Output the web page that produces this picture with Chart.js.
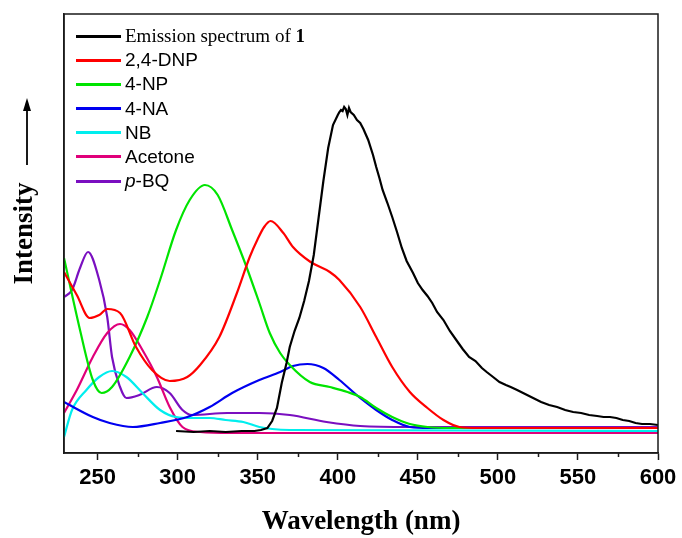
<!DOCTYPE html>
<html>
<head>
<meta charset="utf-8">
<script src="https://cdn.jsdelivr.net/npm/chart.js@4.4.0/dist/chart.umd.min.js"></script>
<style>
  html, body { margin: 0; padding: 0; background: #fff; }
  #wrap { position: relative; width: 682px; height: 538px; }
  #myChart { position: absolute; left: 0; top: 0; }
  #legend { position: absolute; left: 76px; top: 24px; }
  #legend .row { height: 24.2px; line-height: 24.2px; white-space: nowrap; font-family: "Liberation Sans", Arial, sans-serif; font-size: 19px; color: #000; }
  #legend .row.serif { font-family: "Liberation Serif", "Times New Roman", serif; }
  #legend .swatch { display: inline-block; width: 45px; height: 3px; vertical-align: middle; margin-right: 4px; position: relative; top: -1px; }
</style>
</head>
<body>
<div id="wrap">
  <canvas id="myChart" width="682" height="538"></canvas>
  <div id="legend"></div>
</div>
<script>
// x range and tick labels
const xMin = 229;
const xMax = 600;
const xMajor = [250, 300, 350, 400, 450, 500, 550, 600];
const xMinor = [275, 325, 375, 425, 475, 525, 575];

// Emission spectrum of 1
const emWl = [299, 310, 320, 330, 340, 348, 352, 356, 359, 362, 365, 368, 370, 373, 376, 379, 382, 385, 388, 391, 394, 397, 400, 401, 402, 403, 404, 405, 406, 407, 408, 410, 412, 414, 416, 419, 422, 424, 426, 428, 431, 434, 437, 440, 443, 447, 450, 453, 456, 459, 462, 466, 470, 474, 478, 482, 486, 490, 493, 497, 501, 505, 508, 512, 517, 522, 527, 532, 537, 542, 547, 552, 557, 562, 566, 570, 574, 578, 582, 586, 590, 595, 600];
const emI  = [22, 21, 22, 21, 22, 22, 23, 25, 32, 45, 70, 90, 106, 122, 135, 152, 172, 198, 235, 272, 305, 328, 338, 341, 343, 342, 346, 344, 338, 345, 341, 338, 333, 330, 324, 313, 298, 286, 275, 263, 250, 236, 221, 205, 192, 180, 170, 163, 157, 150, 141, 133, 122, 113, 104, 96, 92, 85, 81, 76, 71, 68, 66, 63, 59, 55, 51, 48, 46, 43, 41, 40, 38, 37, 36, 36, 35, 33, 32, 30, 29, 29, 28];

// 2,4-DNP
const dnpWl = [229, 237, 245, 251, 256, 264, 274, 284, 295, 306, 314, 326, 337, 345, 350, 354, 358, 366, 372, 383, 395, 401, 414, 424, 434, 445, 456, 466, 476, 488, 530, 600];
const dnpI  = [181, 158, 135, 138, 144, 140, 106, 83, 72, 76, 88, 116, 160, 196, 214, 226, 232, 220, 206, 191, 181, 173, 146, 116, 86, 61, 45, 33, 26, 25, 25, 25];

// 4-NP
const npWl = [229, 239, 247, 252.5, 259, 270, 281, 289, 299, 307.5, 317, 325, 334, 343, 351, 357.5, 364, 370, 382.5, 395, 406, 414, 424, 434, 445, 456, 470, 600];
const npI  = [195, 123, 73, 60, 66, 96, 136, 173, 223, 253, 268, 258, 223, 186, 150, 120, 100, 88, 71, 66, 61, 56, 45, 36, 29, 26, 25, 25];

// 4-NA
const naWl = [229, 247, 257.5, 272, 289, 306, 320, 334, 351, 364, 372, 381, 391, 401, 414, 424, 434, 445, 457, 600];
const naI  = [51, 36, 30, 26, 30, 36, 46, 60, 73, 81, 87, 89, 85, 73, 55, 43, 33, 26, 25, 25];

// NB
const nbWl = [229, 234, 243, 251, 259, 268, 278, 289, 299, 310, 320, 330, 341, 351, 359, 370, 600];
const nbI  = [16, 43, 63, 76, 82, 76, 60, 43, 36, 35, 35, 33, 31, 26, 24, 23, 22];

// Acetone
const acWl = [229, 237, 247, 256, 264, 270, 278, 287, 295, 303, 314, 333, 600];
const acI  = [40, 63, 96, 120, 129, 123, 103, 76, 46, 26, 21, 20, 20];

// p-BQ
const bqWl = [229, 234, 239, 244, 251, 256, 259, 264, 268, 276, 287, 295, 303, 309, 331, 351, 370, 393, 414, 445, 600];
const bqI  = [156, 163, 185, 201, 173, 136, 96, 66, 55, 58, 66, 60, 43, 38, 40, 40, 38, 31, 27, 26, 26];

const series = [
  { label: 'Emission spectrum of 1', html: 'Emission spectrum of <b>1</b>', serif: true, color: '#000000', wl: emWl, v: emI, tension: 0 },
  { label: '2,4-DNP', html: '2,4-DNP', color: '#ff0000', wl: dnpWl, v: dnpI },
  { label: '4-NP', html: '4-NP', color: '#00e400', wl: npWl, v: npI },
  { label: '4-NA', html: '4-NA', color: '#0000f0', wl: naWl, v: naI },
  { label: 'NB', html: 'NB', color: '#00eeee', wl: nbWl, v: nbI },
  { label: 'Acetone', html: 'Acetone', color: '#e0007a', wl: acWl, v: acI },
  { label: 'p-BQ', html: '<i>p</i>-BQ', color: '#7a0fc0', wl: bqWl, v: bqI }
];

// legend as html
const legend = document.getElementById('legend');
series.forEach(s => {
  const row = document.createElement('div');
  row.className = 'row' + (s.serif ? ' serif' : '');
  row.innerHTML = '<span class="swatch" style="background:' + s.color + '"></span>' + s.html;
  legend.appendChild(row);
});

const frame = {
  id: 'frame',
  afterDraw(chart) {
    const ctx = chart.ctx;
    const a = chart.chartArea;
    const x = chart.scales.x;
    ctx.save();
    ctx.strokeStyle = '#1a1a1a';
    ctx.lineWidth = 1.5;
    ctx.strokeRect(a.left, a.top, a.right - a.left, a.bottom - a.top);
    // minor ticks
    ctx.beginPath();
    xMinor.forEach(v => {
      const px = Math.round(x.getPixelForValue(v)) + 0.5;
      ctx.moveTo(px, a.bottom);
      ctx.lineTo(px, a.bottom + 4);
    });
    ctx.stroke();
    // arrow next to the y title
    ctx.fillStyle = '#000';
    ctx.lineWidth = 2;
    ctx.beginPath();
    ctx.moveTo(27, 165);
    ctx.lineTo(27, 108);
    ctx.stroke();
    ctx.beginPath();
    ctx.moveTo(27, 98);
    ctx.lineTo(23, 111);
    ctx.lineTo(31, 111);
    ctx.closePath();
    ctx.fill();
    ctx.restore();
  }
};

const myChart = new Chart('myChart', {
  type: 'line',
  data: {
    datasets: series.map(s => ({
      label: s.label,
      data: s.wl.map((w, i) => ({ x: w, y: s.v[i] })),
      borderColor: s.color,
      borderWidth: 2.2,
      pointRadius: 0,
      fill: false,
      tension: s.tension === 0 ? 0 : 0.4,
      cubicInterpolationMode: s.tension === 0 ? 'default' : 'monotone'
    }))
  },
  options: {
    responsive: false,
    animation: false,
    layout: { padding: { left: 0, right: 24, top: 14, bottom: 0 } },
    plugins: { legend: { display: false }, tooltip: { enabled: false } },
    scales: {
      x: {
        type: 'linear',
        min: xMin,
        max: xMax,
        afterBuildTicks: axis => { axis.ticks = xMajor.map(v => ({ value: v })); },
        afterFit: axis => { axis.height = 85; },
        border: { display: true, color: '#1a1a1a', width: 1.5 },
        grid: { display: true, drawOnChartArea: false, drawTicks: true, tickLength: 7, tickColor: '#1a1a1a', tickWidth: 1.5 },
        ticks: {
          color: '#000',
          padding: 5,
          maxRotation: 0,
          font: { family: '"Liberation Sans", Arial, sans-serif', size: 22, weight: 'bold' }
        },
        title: {
          display: true,
          text: 'Wavelength (nm)',
          color: '#000',
          padding: { top: 0, bottom: 0 },
          font: { family: '"Liberation Serif", "Times New Roman", serif', size: 27, weight: 'bold' }
        }
      },
      y: {
        min: 0,
        max: 439,
        afterFit: axis => { axis.width = 64; },
        border: { display: true, color: '#1a1a1a', width: 1.5 },
        grid: { display: false },
        ticks: { display: false },
        title: {
          display: true,
          text: 'Intensity',
          color: '#000',
          padding: { top: 9, bottom: 0 },
          font: { family: '"Liberation Serif", "Times New Roman", serif', size: 27, weight: 'bold' }
        }
      }
    }
  },
  plugins: [frame]
});
</script>
</body>
</html>
